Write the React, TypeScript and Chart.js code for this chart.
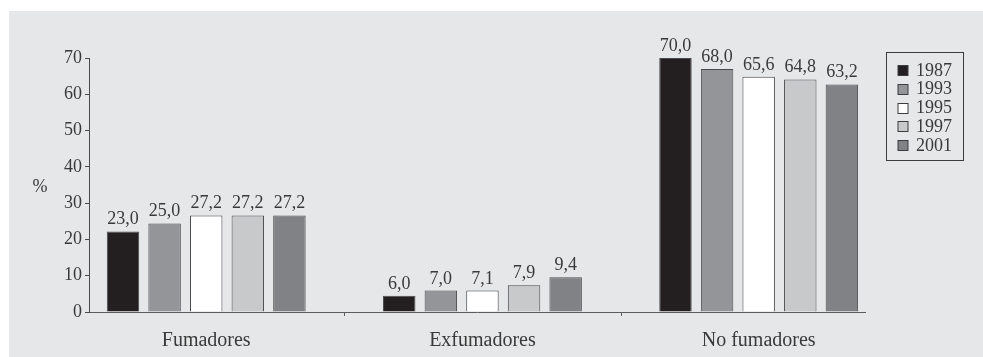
import React, { useEffect, useRef } from "react";
import { Chart, registerables } from "chart.js";

Chart.register(...registerables);

const categories = ["Fumadores", "Exfumadores", "No fumadores"];
const years = ["1987", "1993", "1995", "1997", "2001"];

// Bar heights as drawn in the picture
const bars1987 = [22.2, 4.5, 70.0];
const bars1993 = [24.4, 5.9, 67.0];
const bars1995 = [26.6, 5.9, 64.8];
const bars1997 = [26.6, 7.4, 64.1];
const bars2001 = [26.6, 9.6, 62.7];

// Printed value labels
const labels1987 = [23.0, 6.0, 70.0];
const labels1993 = [25.0, 7.0, 68.0];
const labels1995 = [27.2, 7.1, 65.6];
const labels1997 = [27.2, 7.9, 64.8];
const labels2001 = [27.2, 9.4, 63.2];

const yTicks = [0, 10, 20, 30, 40, 50, 60, 70];

const barColors = ["#231f20", "#939598", "#ffffff", "#c8c9cb", "#808285"];
const FONT = "'Liberation Serif', 'Times New Roman', serif";
const TEXT = "#3a3a3a";

const allBars = [bars1987, bars1993, bars1995, bars1997, bars2001];
const allLabels = [labels1987, labels1993, labels1995, labels1997, labels2001];

const fmt = (v: number) => v.toFixed(1).replace(".", ",");

const extrasPlugin = {
  id: "extras",
  afterDatasetsDraw(chart: any) {
    const ctx = chart.ctx;
    const area = chart.chartArea;
    const xs = chart.scales.x;
    ctx.save();
    // value labels
    ctx.font = `18px ${FONT}`;
    ctx.fillStyle = TEXT;
    ctx.textAlign = "center";
    ctx.textBaseline = "alphabetic";
    chart.data.datasets.forEach((ds: any, di: number) => {
      const meta = chart.getDatasetMeta(di);
      meta.data.forEach((el: any, i: number) => {
        ctx.fillText(fmt(allLabels[di][i]), el.x, el.y - 7);
      });
    });
    // separator ticks between categories
    ctx.strokeStyle = "#5c5c5e";
    ctx.lineWidth = 1;
    [0.5, 1.5].forEach((v) => {
      const px = Math.round(xs.getPixelForValue(v)) + 0.5;
      ctx.beginPath();
      ctx.moveTo(px, area.bottom);
      ctx.lineTo(px, area.bottom + 4);
      ctx.stroke();
    });
    // % label
    ctx.font = `18px ${FONT}`;
    ctx.fillStyle = TEXT;
    ctx.textAlign = "center";
    ctx.textBaseline = "middle";
    ctx.fillText("%", area.left - 49, (area.top + area.bottom) / 2 + 2);
    // legend
    const lx = area.right + 21.5;
    const ly = 41.5;
    ctx.strokeStyle = "#3c3c3e";
    ctx.lineWidth = 1;
    ctx.strokeRect(lx, ly, 77, 108);
    ctx.font = `18px ${FONT}`;
    ctx.textAlign = "left";
    ctx.textBaseline = "middle";
    chart.data.datasets.forEach((ds: any, di: number) => {
      const cy = ly + 17.5 + di * 18.75;
      ctx.fillStyle = ds.backgroundColor;
      ctx.fillRect(lx + 11.5, Math.round(cy - 5) + 0.5, 10, 10);
      ctx.strokeStyle = "#3c3c3e";
      ctx.strokeRect(lx + 11.5, Math.round(cy - 5) + 0.5, 10, 10);
      ctx.fillStyle = TEXT;
      ctx.fillText(ds.label, lx + 29.5, cy + 1);
    });
    ctx.restore();
  },
};

export default function App() {
  const ref = useRef<HTMLCanvasElement | null>(null);
  useEffect(() => {
    if (!ref.current) return;
    const chart = new Chart(ref.current, {
      type: "bar",
      data: {
        datasets: years.map((y, di) => ({
          label: y,
          data: allBars[di].map((v, i) => ({ x: i, y: v })),
          backgroundColor: barColors[di],
          borderColor: "#4a4a4c",
          borderWidth: 1,
          categoryPercentage: 0.753,
          barPercentage: 0.78,
        })),
      },
      options: {
        animation: false,
        responsive: true,
        maintainAspectRatio: false,
        layout: { padding: { top: 47, right: 118, left: 0, bottom: 0 } },
        plugins: {
          legend: { display: false },
          tooltip: { enabled: false },
        },
        scales: {
          x: {
            type: "linear",
            offset: false,
            min: -0.4243,
            max: 2.3849,
            afterBuildTicks: (scale: any) => {
              scale.ticks = categories.map((_, i) => ({ value: i }));
            },
            afterFit: (scale: any) => {
              scale.height = 45;
            },
            grid: { display: true, offset: false, drawOnChartArea: false, drawTicks: false, color: "transparent" },
            border: { display: true, color: "#5c5c5e", width: 1 },
            ticks: {
              padding: 17,
              color: TEXT,
              font: { family: FONT, size: 20 },
              callback: (v: any) => categories[v as number] ?? "",
              maxRotation: 0,
              autoSkip: false,
            },
          },
          y: {
            min: 0,
            max: 70,
            afterBuildTicks: (scale: any) => {
              scale.ticks = yTicks.map((v) => ({ value: v }));
            },
            afterFit: (scale: any) => {
              scale.width = 80;
            },
            grid: { drawOnChartArea: false, drawTicks: true, tickLength: 4, color: "#4a4a4c" },
            border: { display: true, color: "#4a4a4c", width: 1 },
            ticks: {
              padding: 3,
              color: TEXT,
              font: { family: FONT, size: 18 },
            },
          },
        },
      },
      plugins: [extrasPlugin],
    });
    return () => chart.destroy();
  }, []);
  return (
    <div
      style={{
        position: "fixed",
        left: 9,
        top: 11,
        width: 974,
        height: 346,
        background: "#e6e7e8",
      }}
    >
      <canvas ref={ref} />
    </div>
  );
}
